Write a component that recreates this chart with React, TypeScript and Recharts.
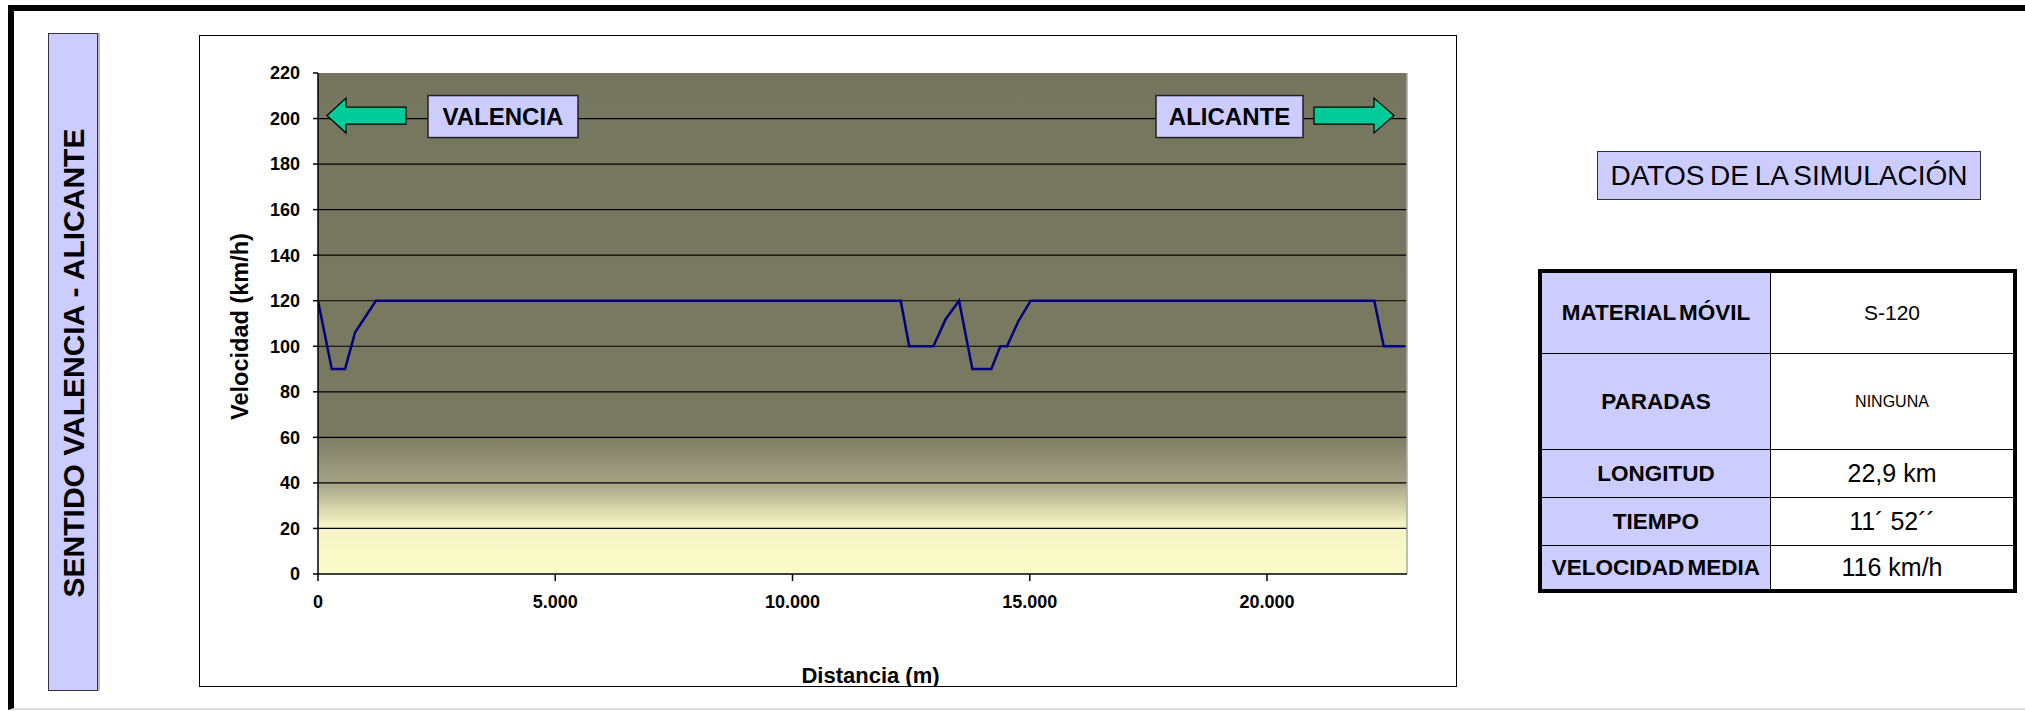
import { CartesianGrid, Line, LineChart, ReferenceDot, ReferenceLine, XAxis, YAxis } from "recharts";

// perfil de velocidad, sentido Valencia - Alicante
const distances = [0, 290, 570, 780, 1220, 12280, 12460, 12970, 13230, 13510, 13790, 14190, 14380, 14520, 14760, 15020, 22260, 22460, 22900];
const speeds = [120, 90, 90, 106, 120, 120, 100, 100, 112, 120, 90, 90, 100, 100, 111, 120, 120, 100, 100];

const xTicks = [0, 5000, 10000, 15000, 20000];
const yTicks = [0, 20, 40, 60, 80, 100, 120, 140, 160, 180, 200, 220];
const gridValues = [20, 40, 60, 80, 100, 120, 140, 160, 180, 200];

const tableLabels = ["MATERIAL MÓVIL", "PARADAS", "LONGITUD", "TIEMPO", "VELOCIDAD MEDIA"];
const tableValues = ["S-120", "NINGUNA", "22,9 km", "11´ 52´´", "116 km/h"];
const valueSizes = [21, 16, 25, 25, 25];
const rowHeights = [81, 96, 48, 48, 43];

const data = distances.map((d, i) => ({ d, v: speeds[i] }));

const FONT = "'Liberation Sans', Arial, sans-serif";
const LILAC = "#CCCCFF";
const GREEN = "#00CC99";

const fmt = (v: number) => String(v).replace(/\B(?=(\d{3})+(?!\d))/g, ".");

const ValenciaMarker = (props: any) => {
  const { cx, cy } = props;
  const y = cy - 3;
  const pts = [
    [cx + 9, y],
    [cx + 28, y - 17.5],
    [cx + 28, y - 8.5],
    [cx + 88, y - 8.5],
    [cx + 88, y + 8.5],
    [cx + 28, y + 8.5],
    [cx + 28, y + 17.5],
  ]
    .map(p => p.join(","))
    .join(" ");
  return (
    <g>
      <polygon points={pts} fill={GREEN} stroke="#000" strokeWidth={1.2} />
      <rect x={cx + 110} y={cy - 23} width={150} height={42} fill={LILAC} stroke="#222" strokeWidth={1.5} />
      <text x={cx + 185} y={cy - 2} textAnchor="middle" dominantBaseline="central" fontSize={24} fontWeight="bold" fontFamily={FONT} fill="#000">
        VALENCIA
      </text>
    </g>
  );
};

const AlicanteMarker = (props: any) => {
  const { cx, cy } = props;
  const y = cy - 3;
  const pts = [
    [cx - 13, y],
    [cx - 33, y - 17.5],
    [cx - 33, y - 8.5],
    [cx - 93, y - 8.5],
    [cx - 93, y + 8.5],
    [cx - 33, y + 8.5],
    [cx - 33, y + 17.5],
  ]
    .map(p => p.join(","))
    .join(" ");
  return (
    <g>
      <polygon points={pts} fill={GREEN} stroke="#000" strokeWidth={1.2} />
      <rect x={cx - 251} y={cy - 23} width={147} height={42} fill={LILAC} stroke="#222" strokeWidth={1.5} />
      <text x={cx - 177.5} y={cy - 2} textAnchor="middle" dominantBaseline="central" fontSize={24} fontWeight="bold" fontFamily={FONT} fill="#000">
        ALICANTE
      </text>
    </g>
  );
};

export default function App() {
  return (
    <div style={{ position: "absolute", left: 0, top: 0, width: 2025, height: 711, background: "#fff", fontFamily: FONT, overflow: "hidden" }}>
      {/* marco exterior */}
      <div
        style={{
          position: "absolute",
          left: 8,
          top: 5,
          width: 2017,
          height: 705,
          boxSizing: "border-box",
          borderTop: "6px solid #000",
          borderLeft: "6px solid #000",
          borderBottom: "2px solid #ddd",
        }}
      />

      {/* rotulo vertical */}
      <div
        style={{
          position: "absolute",
          left: 48,
          top: 33,
          width: 50,
          height: 658,
          boxSizing: "border-box",
          background: LILAC,
          border: "1.5px solid #333344",
          boxShadow: "2px 0 0 #bbb",
        }}
      >
        <svg width={47} height={655} style={{ display: "block" }}>
          <text
            x={24}
            y={329}
            transform="rotate(-90 24 329)"
            textAnchor="middle"
            dominantBaseline="central"
            fontSize={30}
            fontWeight="bold"
            fontFamily={FONT}
            fill="#000"
          >
            SENTIDO VALENCIA - ALICANTE
          </text>
        </svg>
      </div>

      {/* marco del grafico */}
      <div
        style={{
          position: "absolute",
          left: 199,
          top: 35,
          width: 1258,
          height: 652,
          boxSizing: "border-box",
          border: "1.5px solid #000",
        }}
      />

      <div style={{ position: "absolute", left: 199, top: 35 }}>
        <LineChart width={1258} height={652} data={data} margin={{ top: 38, right: 50, left: 0, bottom: 0 }}>
          <defs>
            <linearGradient id="plotBg" x1="0" y1="0" x2="0" y2="1">
              <stop offset="0" stopColor="#76765E" />
              <stop offset="0.72" stopColor="#7A7A62" />
              <stop offset="0.82" stopColor="#A5A486" />
              <stop offset="0.9" stopColor="#F4F3C3" />
              <stop offset="1" stopColor="#FCFCCA" />
            </linearGradient>
          </defs>
          <CartesianGrid
            vertical={false}
            horizontalValues={gridValues}
            stroke="#000"
            strokeWidth={1.2}
            fill="url(#plotBg)"
            fillOpacity={1}
          />
          <XAxis
            dataKey="d"
            type="number"
            domain={[0, 22950]}
            ticks={xTicks}
            allowDataOverflow
            height={113}
            tickFormatter={fmt}
            tickSize={7}
            tickMargin={14}
            tick={{ fill: "#000", fontSize: 18, fontWeight: "bold", fontFamily: FONT }}
            stroke="#000"
            strokeWidth={1.5}
            label={(props: any) => {
              const vb = props.viewBox || {};
              const x = (vb.x ?? 0) + (vb.width ?? 0) / 2 + 8;
              const y = (vb.y ?? 0) + (vb.height ?? 0) - 4;
              return (
                <text x={x} y={y} textAnchor="middle" fontSize={22} fontWeight="bold" fontFamily={FONT} fill="#000">
                  Distancia (m)
                </text>
              );
            }}
          />
          <YAxis
            type="number"
            domain={[0, 220]}
            ticks={yTicks}
            width={119}
            tickSize={5}
            tickMargin={13}
            tick={{ fill: "#000", fontSize: 18, fontWeight: "bold", fontFamily: FONT }}
            stroke="#000"
            strokeWidth={1.5}
            label={(props: any) => {
              const vb = props.viewBox || {};
              const x = (vb.x ?? 0) + 41;
              const y = (vb.y ?? 0) + (vb.height ?? 0) / 2 + 3;
              return (
                <text
                  x={x}
                  y={y}
                  transform={`rotate(-90 ${x} ${y})`}
                  textAnchor="middle"
                  dominantBaseline="central"
                  fontSize={23.5}
                  fontWeight="bold"
                  fontFamily={FONT}
                  fill="#000"
                >
                  Velocidad (km/h)
                </text>
              );
            }}
          />
          <ReferenceLine x={22950} stroke="#a8a8a8" strokeWidth={1.5} ifOverflow="visible" />
          <Line type="linear" dataKey="v" stroke="#000080" strokeWidth={2.5} dot={false} isAnimationActive={false} />
          <ReferenceDot x={0} y={200} ifOverflow="visible" shape={ValenciaMarker} />
          <ReferenceDot x={22950} y={200} ifOverflow="visible" shape={AlicanteMarker} />
        </LineChart>
      </div>

      {/* datos de la simulacion */}
      <div
        style={{
          position: "absolute",
          left: 1597,
          top: 151,
          width: 384,
          height: 49,
          boxSizing: "border-box",
          background: LILAC,
          border: "1.5px solid #333",
          display: "flex",
          alignItems: "center",
          justifyContent: "center",
          fontSize: 28,
          wordSpacing: -2,
          color: "#000",
        }}
      >
        DATOS DE LA SIMULACIÓN
      </div>

      <div
        style={{
          position: "absolute",
          left: 1538,
          top: 269,
          width: 479,
          height: 324,
          boxSizing: "border-box",
          border: "4px solid #000",
          display: "grid",
          gridTemplateColumns: "229px 1fr",
          gridTemplateRows: rowHeights.map(h => `${h}px`).join(" "),
          background: "#fff",
        }}
      >
        {tableLabels.map((lab, i) => {
          const last = i === tableLabels.length - 1;
          return [
            <div
              key={`l${i}`}
              style={{
                background: LILAC,
                boxSizing: "border-box",
                borderRight: "1.5px solid #000",
                borderBottom: last ? "none" : "1.5px solid #000",
                display: "flex",
                alignItems: "center",
                justifyContent: "center",
                fontWeight: "bold",
                fontSize: 22.5,
                wordSpacing: -3,
                whiteSpace: "nowrap",
              }}
            >
              {lab}
            </div>,
            <div
              key={`v${i}`}
              style={{
                boxSizing: "border-box",
                borderBottom: last ? "none" : "1.5px solid #000",
                display: "flex",
                alignItems: "center",
                justifyContent: "center",
                fontSize: valueSizes[i],
                whiteSpace: "nowrap",
              }}
            >
              {tableValues[i]}
            </div>,
          ];
        })}
      </div>
    </div>
  );
}
